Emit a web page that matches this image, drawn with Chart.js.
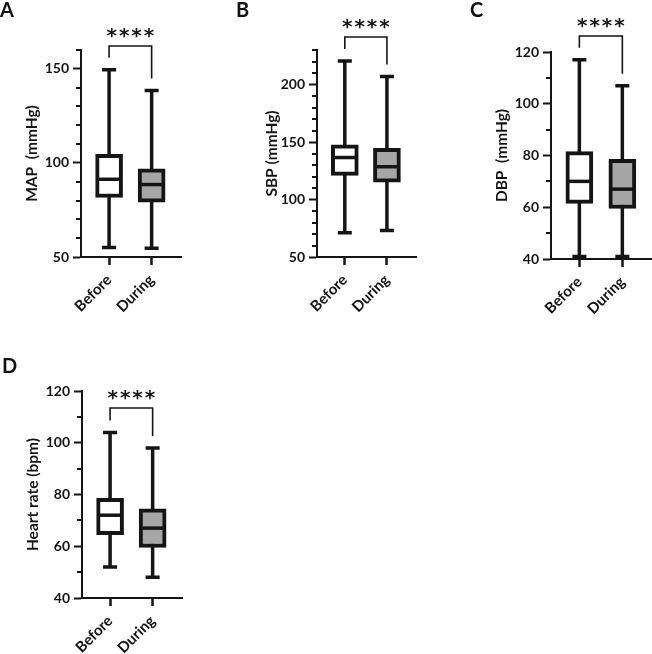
<!DOCTYPE html>
<html>
<head>
<meta charset="utf-8">
<script src="https://cdn.jsdelivr.net/npm/chart.js@4.4.1/dist/chart.umd.min.js"></script>
<style>
  body { margin: 0; background: #fff; }
  #wrap { position: relative; width: 652px; height: 654px; overflow: hidden; }
  canvas { position: absolute; }
  .letter { position: absolute; font: 700 20px Lato, sans-serif; color: #111; line-height: 20px; }
</style>
</head>
<body>
<div id="wrap">
  <canvas id="chartA" width="215" height="320" style="left:0;top:0"></canvas>
  <canvas id="chartB" width="220" height="320" style="left:215px;top:0"></canvas>
  <canvas id="chartC" width="212" height="320" style="left:440px;top:0"></canvas>
  <canvas id="chartD" width="215" height="324" style="left:0;top:330px"></canvas>
  <div class="letter" style="left:0;top:-1px">A</div>
  <div class="letter" style="left:236px;top:-1px">B</div>
  <div class="letter" style="left:470px;top:-1px">C</div>
  <div class="letter" style="left:2px;top:355px">D</div>
</div>
<script>
// Gruppen
const groups = ['Before', 'During'];

// MAP (mmHg)
const mapMin = [55, 54.6];
const mapQ1 = [81.6, 79.1];
const mapMedian = [91.3, 88.5];
const mapQ3 = [104.5, 96.8];
const mapMax = [149.5, 138.5];
const mapTicks = [50, 100, 150];

// SBP (mmHg)
const sbpMin = [71, 73];
const sbpQ1 = [121, 115];
const sbpMedian = [136.5, 128.5];
const sbpQ3 = [147.5, 144.5];
const sbpMax = [220.5, 207];
const sbpTicks = [50, 100, 150, 200];

// DBP (mmHg)
const dbpMin = [41, 41];
const dbpQ1 = [61.5, 59.5];
const dbpMedian = [70, 67];
const dbpQ3 = [81.5, 78.5];
const dbpMax = [117, 107];
const dbpTicks = [40, 60, 80, 100, 120];

// Heart rate (bpm)
const hrMin = [52, 48];
const hrQ1 = [64.5, 59.5];
const hrMedian = [72, 67];
const hrQ3 = [78.5, 74.5];
const hrMax = [104, 98];
const hrTicks = [40, 60, 80, 100, 120];

const ink = '#151515';
const boxFills = ['#ffffff', '#a6a6a6'];
const fontFamily = 'Lato, sans-serif';

// Whisker, Median, Nebenstriche und Signifikanzklammer
function boxPlugin(p) {
    return {
        id: 'boxWhiskers',
        beforeDatasetsDraw(chart) {
            const ctx = chart.ctx, xs = chart.scales.x, ys = chart.scales.y;
            ctx.save();
            ctx.strokeStyle = ink;
            ctx.lineWidth = 3.5;
            [1, 2].forEach((pos, i) => {
                const x = xs.getPixelForValue(pos);
                const yMin = ys.getPixelForValue(p.min[i]);
                const yMax = ys.getPixelForValue(p.max[i]);
                ctx.beginPath();
                ctx.moveTo(x, yMin);
                ctx.lineTo(x, yMax);
                ctx.moveTo(x - 7, yMin);
                ctx.lineTo(x + 7, yMin);
                ctx.moveTo(x - 7, yMax);
                ctx.lineTo(x + 7, yMax);
                ctx.stroke();
            });
            ctx.restore();
        },
        afterDatasetsDraw(chart) {
            const ctx = chart.ctx, xs = chart.scales.x, ys = chart.scales.y;
            ctx.save();
            ctx.strokeStyle = ink;
            ctx.lineWidth = 3.5;
            // Median
            [1, 2].forEach((pos, i) => {
                const x = xs.getPixelForValue(pos);
                const y = ys.getPixelForValue(p.median[i]);
                ctx.beginPath();
                ctx.moveTo(x - 12, y);
                ctx.lineTo(x + 12, y);
                ctx.stroke();
            });
            // kleine Striche auf der y-Achse
            ctx.lineWidth = 2;
            const left = chart.chartArea.left;
            for (let v = p.yMin; v <= p.yMax; v += 10) {
                if (p.ticks.includes(v)) continue;
                const y = Math.round(ys.getPixelForValue(v));
                ctx.beginPath();
                ctx.moveTo(left - 5, y);
                ctx.lineTo(left, y);
                ctx.stroke();
            }
            // Klammer mit ****
            const xa = xs.getPixelForValue(1), xb = xs.getPixelForValue(2);
            const ya = ys.getPixelForValue(p.max[0]), yb = ys.getPixelForValue(p.max[1]);
            const top = Math.round(Math.min(ya, yb) - 24);
            ctx.lineWidth = 1.6;
            ctx.beginPath();
            ctx.moveTo(xa, ya - 12);
            ctx.lineTo(xa, top);
            ctx.lineTo(xb, top);
            ctx.lineTo(xb, yb - 12);
            ctx.stroke();
            ctx.fillStyle = ink;
            ctx.font = '700 20px "DejaVu Sans", sans-serif';
            ctx.letterSpacing = '2px';
            ctx.textAlign = 'center';
            ctx.textBaseline = 'alphabetic';
            ctx.fillText('****', (xa + xb) / 2 + 1, top - 4);
            ctx.restore();
        }
    };
}

function boxPanel(id, p) {
    const canvas = document.getElementById(id);
    const g = p.geom;
    return new Chart(canvas, {
        type: 'bar',
        data: {
            datasets: [{
                data: [1, 2].map((pos, i) => ({ x: pos, y: [p.q1[i], p.q3[i]] })),
                backgroundColor: boxFills,
                borderColor: ink,
                borderWidth: 4,
                borderSkipped: false,
                barThickness: 27
            }]
        },
        options: {
            responsive: false,
            animation: false,
            layout: {
                padding: { left: g.padLeft, top: g.top, right: canvas.width - g.right, bottom: 0 }
            },
            plugins: { legend: { display: false }, tooltip: { enabled: false } },
            scales: {
                x: {
                    type: 'linear',
                    offset: false,
                    min: 0.34,
                    max: 2.69,
                    afterBuildTicks: s => { s.ticks = [{ value: 1 }, { value: 2 }]; },
                    afterFit: s => { s.height = canvas.height - g.bottom; },
                    ticks: {
                        callback: v => groups[v - 1],
                        minRotation: 45,
                        maxRotation: 45,
                        padding: 6,
                        color: ink,
                        font: { family: fontFamily, size: 15, weight: '700' }
                    },
                    grid: { offset: false, drawOnChartArea: false, tickLength: 8, tickWidth: 2.5, color: ink },
                    border: { color: ink, width: 2 }
                },
                y: {
                    min: p.yMin,
                    max: p.yMax,
                    afterBuildTicks: s => { s.ticks = p.ticks.map(v => ({ value: v })); },
                    afterFit: s => { s.width = g.left - g.padLeft; },
                    ticks: {
                        padding: 4,
                        color: ink,
                        font: { family: fontFamily, size: 14, weight: '700' }
                    },
                    title: {
                        display: true,
                        text: p.title,
                        color: ink,
                        font: { family: fontFamily, size: 15.5, weight: '700' }
                    },
                    grid: { drawOnChartArea: false, tickLength: 8, tickWidth: 2, color: ink },
                    border: { color: ink, width: 2 }
                }
            }
        },
        plugins: [boxPlugin(p)]
    });
}

boxPanel('chartA', {
    title: 'MAP  (mmHg)', yMin: 50, yMax: 160, ticks: mapTicks,
    min: mapMin, q1: mapQ1, median: mapMedian, q3: mapQ3, max: mapMax,
    geom: { padLeft: 19, left: 81, top: 50, right: 181, bottom: 257 }
});
boxPanel('chartB', {
    title: 'SBP (mmHg)', yMin: 50, yMax: 230, ticks: sbpTicks,
    min: sbpMin, q1: sbpQ1, median: sbpMedian, q3: sbpQ3, max: sbpMax,
    geom: { padLeft: 44, left: 102, top: 50, right: 201, bottom: 257 }
});
boxPanel('chartC', {
    title: 'DBP  (mmHg)', yMin: 40, yMax: 120, ticks: dbpTicks,
    min: dbpMin, q1: dbpQ1, median: dbpMedian, q3: dbpQ3, max: dbpMax,
    geom: { padLeft: 49, left: 111, top: 52, right: 212, bottom: 259 }
});
boxPanel('chartD', {
    title: 'Heart rate (bpm)', yMin: 40, yMax: 120, ticks: hrTicks,
    min: hrMin, q1: hrQ1, median: hrMedian, q3: hrQ3, max: hrMax,
    geom: { padLeft: 20, left: 82, top: 61, right: 182, bottom: 268 }
});
</script>
</body>
</html>
